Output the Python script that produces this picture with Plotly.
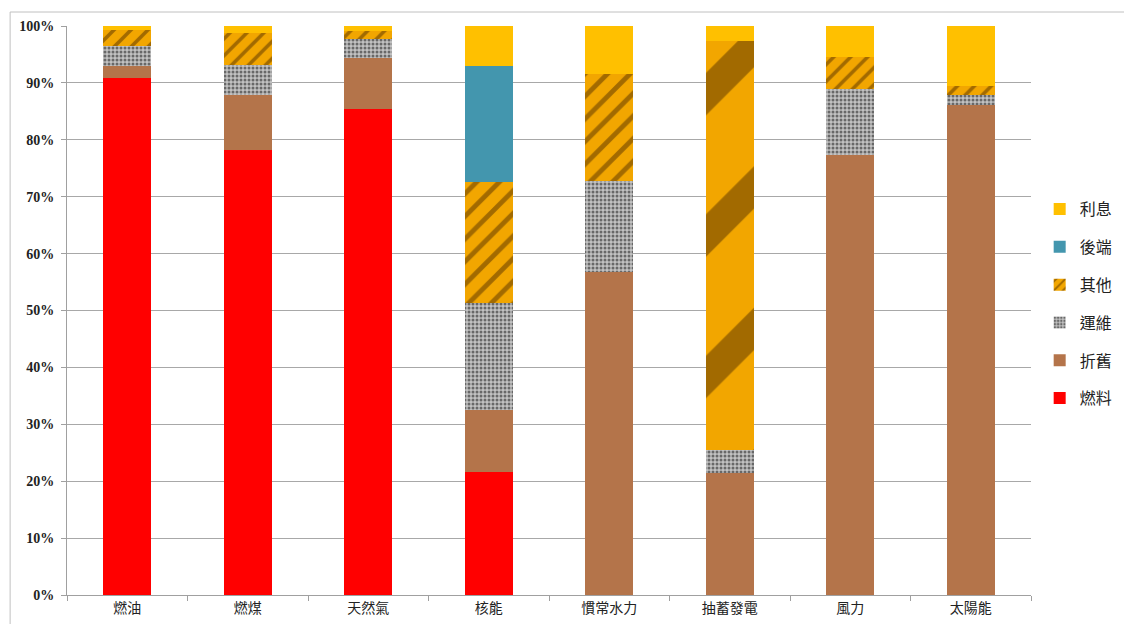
import plotly.graph_objects as go

# Generation cost structure by technology (share of total, %)
categories = ["燃油", "燃煤", "天然氣", "核能", "慣常水力", "抽蓄發電", "風力", "太陽能"]

fuel         = [90.8, 78.2, 85.5, 21.7, 0.0, 0.0, 0.0, 0.0]    # 燃料
depreciation = [2.1, 9.7, 8.9, 10.8, 56.8, 21.5, 77.3, 86.2]  # 折舊
om           = [3.5, 5.2, 3.4, 18.9, 16.0, 4.0, 11.7, 1.7]    # 運維
other        = [2.9, 5.6, 1.4, 21.1, 18.7, 71.8, 5.6, 1.6]    # 其他
backend      = [0.0, 0.0, 0.0, 20.4, 0.0, 0.0, 0.0, 0.0]      # 後端
interest     = [0.8, 1.3, 0.8, 7.1, 8.5, 2.7, 5.4, 10.5]      # 利息

y_ticks = [0, 10, 20, 30, 40, 50, 60, 70, 80, 90, 100]
y_tick_labels = [f"{v}%" for v in y_ticks]

BAR_W = 0.4
# wider stripes on the tall pumped-storage segment
other_stripe_size = [12, 12, 12, 16, 16, 100, 12, 12]

series = [
    ("燃料", fuel, dict(color="#FF0000")),
    ("折舊", depreciation, dict(color="#B4744A")),
    ("運維", om, dict(color="#B8B8B8",
                     pattern=dict(shape=".", fgcolor="#686868", bgcolor="#C2C2C2",
                                  size=4, solidity=0.45, fillmode="replace"))),
    ("其他", other, dict(color="#EFA000",
                       pattern=dict(shape="/", fgcolor="#A26A00", bgcolor="#F2A600",
                                    size=other_stripe_size, solidity=0.3,
                                    fillmode="replace"))),
    ("後端", backend, dict(color="#4396AE")),
    ("利息", interest, dict(color="#FFC000")),
]

fig = go.Figure()
n = len(series)
for i, (name, vals, marker) in enumerate(series):
    fig.add_trace(go.Bar(
        name=name, x=categories, y=vals, width=BAR_W,
        marker=dict(line=dict(width=0), **marker),
        legendgroup=name,
        legendrank=n - i,
    ))

fig.update_layout(
    barmode="stack",
    width=1124, height=624,
    margin=dict(l=67, r=93, t=26, b=29, autoexpand=False),
    paper_bgcolor="white", plot_bgcolor="white",
    font=dict(family="Noto Sans CJK TC, sans-serif", color="#222"),
    showlegend=True,
    legend=dict(
        x=1.009, y=0.512, xanchor="left", yanchor="middle",
        traceorder="grouped", tracegroupgap=14,
        font=dict(size=16, color="#222"),
        itemwidth=30,
    ),
    xaxis=dict(
        showline=True, linecolor="#A0A0A0", linewidth=1,
        ticks="outside", tickson="boundaries", ticklen=5, tickcolor="#A0A0A0",
        tickfont=dict(size=14, color="#222"),
        showgrid=False, automargin=False,
    ),
    yaxis=dict(
        range=[0, 100],
        tickvals=y_ticks, ticktext=y_tick_labels,
        showline=True, linecolor="#A0A0A0", linewidth=1,
        ticks="outside", ticklen=5, tickcolor="#A0A0A0",
        ticklabelstandoff=4,
        tickfont=dict(family="Liberation Serif", size=14, color="#222", weight="bold"),
        showgrid=True, gridcolor="#A8A8A8", gridwidth=1,
        zeroline=False, automargin=False,
    ),
    shapes=[
        # outer chart frame (top and left edges)
        dict(type="line", xref="paper", yref="paper",
             x0=-0.059, x1=1.2, y0=1.0246, y1=1.0246,
             line=dict(color="#C0C0C0", width=1)),
        dict(type="line", xref="paper", yref="paper",
             x0=-0.059, x1=-0.059, y0=1.0246, y1=-0.06,
             line=dict(color="#C0C0C0", width=1)),
    ],
)

fig.write_html("out.html")
